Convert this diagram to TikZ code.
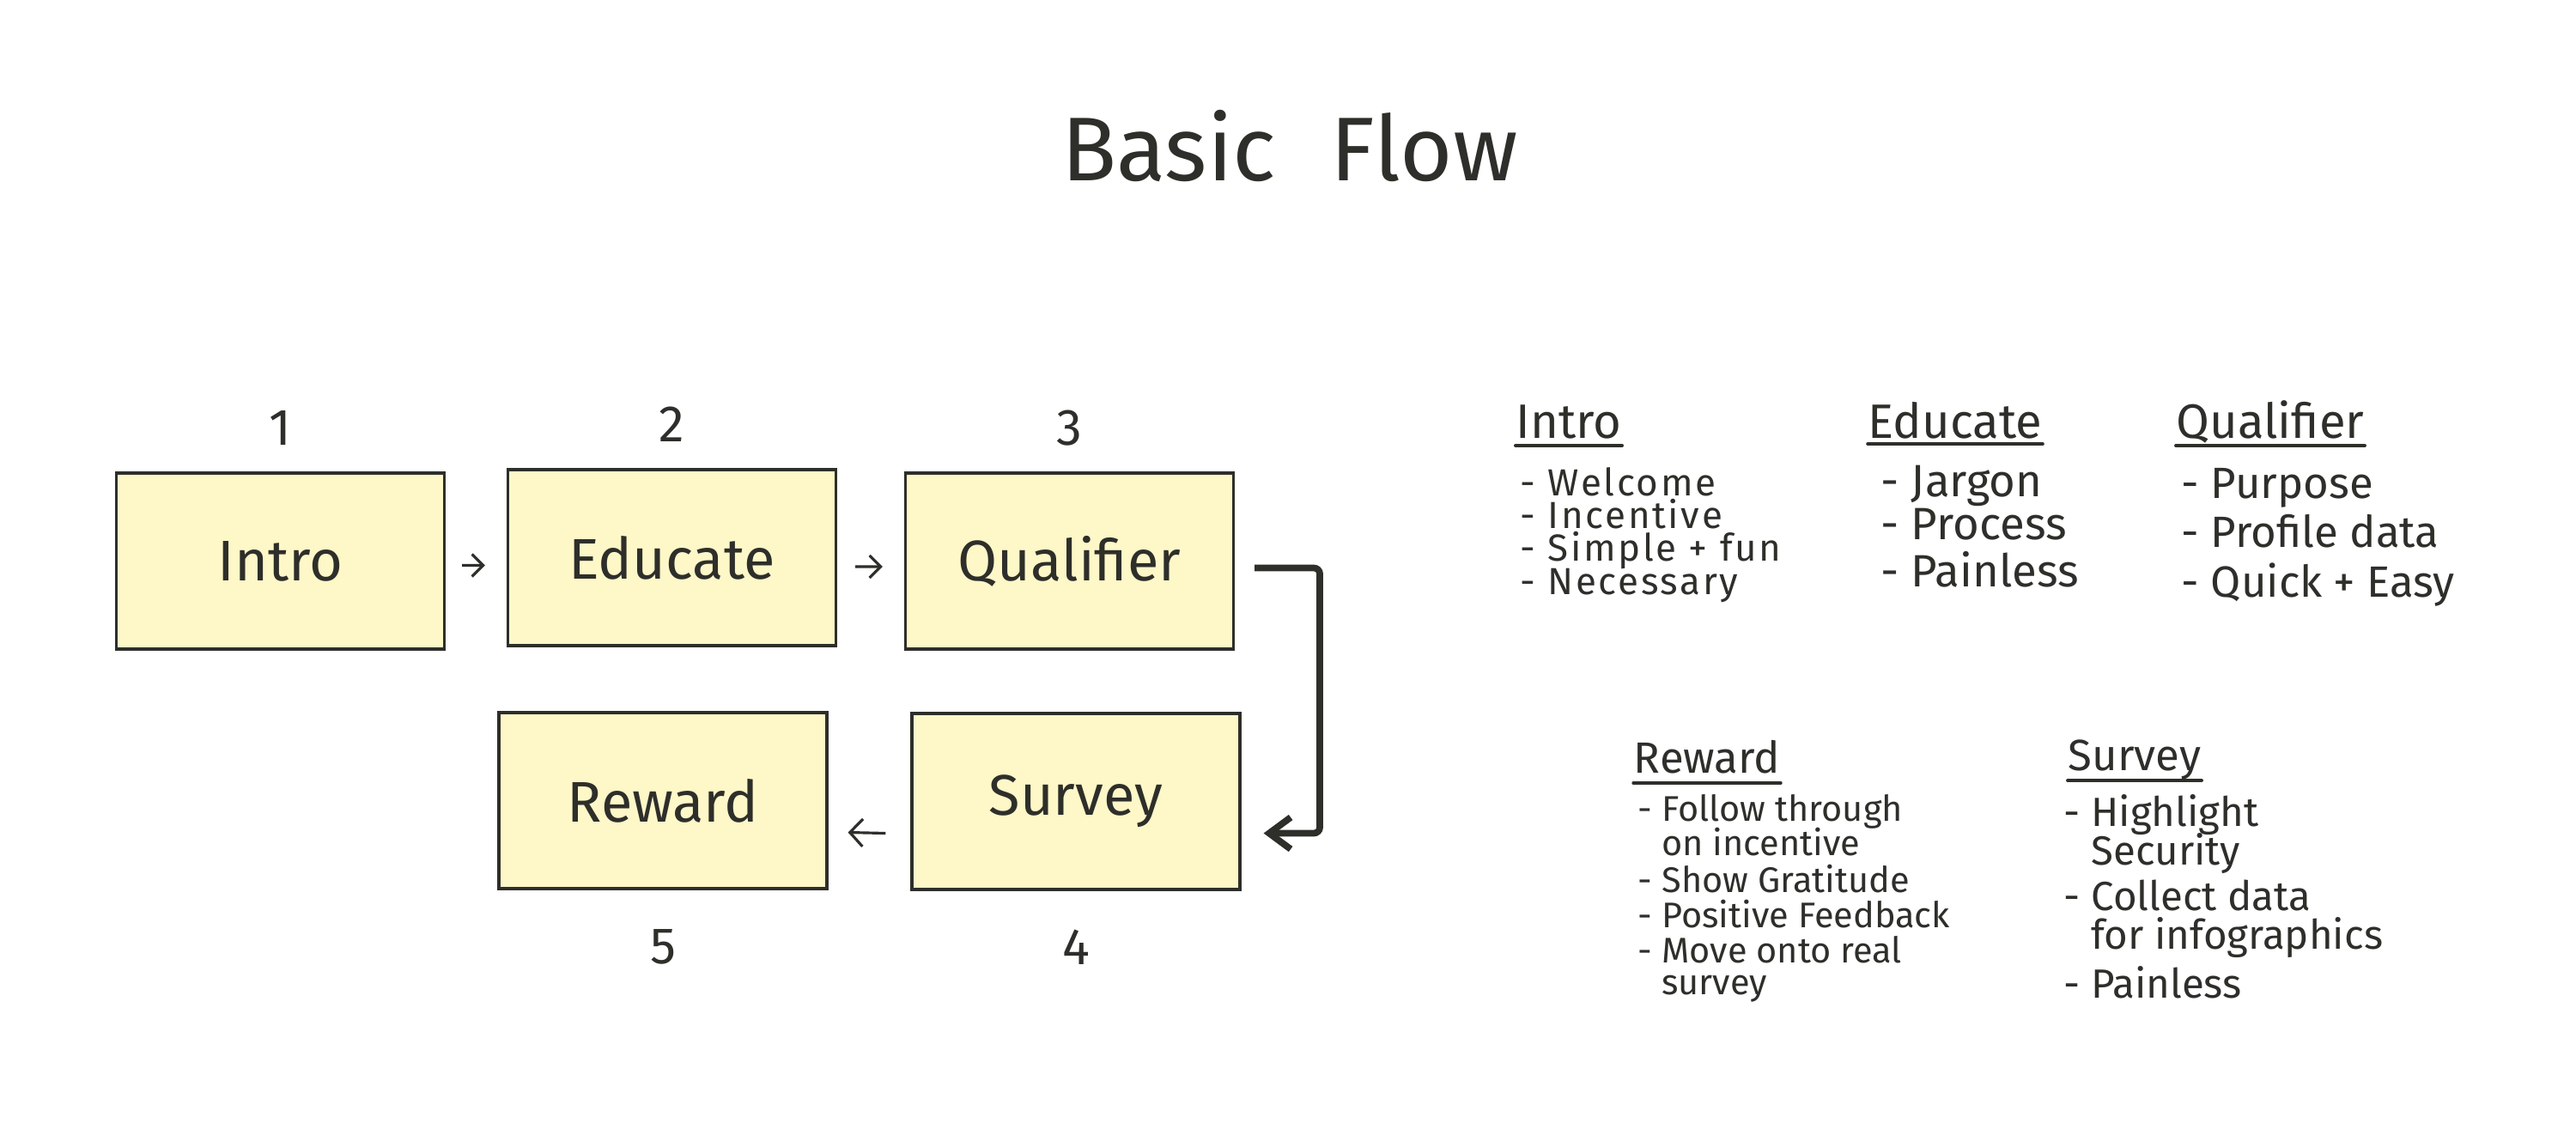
\documentclass[tikz,border=0pt]{standalone}
\usepackage{fontspec}
\setmainfont{Fira Sans}
\newfontfamily\widefont[LetterSpace=6]{Fira Sans}
\usetikzlibrary{positioning, arrows.meta, calc}
\definecolor{noteFill}{HTML}{FEF7C8}
\definecolor{ink}{HTML}{2E2E2A}

\begin{document}
\begin{tikzpicture}[every node/.style={text=ink},
  box/.style={draw=ink, line width=0.9pt, fill=noteFill, minimum width=3.82cm, minimum height=2.05cm, font=\fontsize{19}{22}\selectfont},
  num/.style={font=\fontsize{17}{20}\selectfont, inner sep=0pt},
  flow/.style={draw=ink, line width=0.9pt, -{Straight Barb[length=1.3mm, width=2.6mm]}},
  heading/.style={inner sep=0pt, anchor=base},
  item/.style={inner sep=0pt, anchor=base west},
  uline/.style={draw=ink, line width=1.1pt, line cap=round}]
\useasboundingbox (0,0) rectangle (30,-13.07);

% title
\node[anchor=base, font=\fontsize{30}{36}\selectfont] (title) at (15.02,-2.10) {Basic\hspace{0.6em}Flow};

% flow boxes
\node[box] (intro) at (3.265,-6.535) {Intro};
\node[box] (educate) at (7.825,-6.495) {Educate};
\node[box] (qualifier) at (12.455,-6.535) {Qualifier};
\node[box] (survey) at (12.53,-9.335) {Survey};
\node[box] (reward) at (7.72,-9.325) {Reward};

% step numbers
\node[num, above=0.3cm of intro] (n1) {1};
\node[num, above=0.3cm of educate] (n2) {2};
\node[num, above=0.3cm of qualifier] (n3) {3};
\node[num, below=0.45cm of survey] (n4) {4};
\node[num, below=0.45cm of reward] (n5) {5};

% connectors
\draw[flow] ([shift={(0.19,-0.05)}]intro.east) -- ([shift={(-0.25,-0.09)}]educate.west);
\draw[flow] ([shift={(0.21,-0.105)}]educate.east) -- ([shift={(-0.25,-0.065)}]qualifier.west);
\draw[flow, line width=2.2pt, rounded corners=2pt, -{Straight Barb[length=2.5mm, width=3.7mm]}]
  ([shift={(0.23,-0.08)}]qualifier.east) -- ++(0.76,0) |- ([shift={(0.26,-0.37)}]survey.east);
\draw[flow, -{Straight Barb[length=1.5mm, width=3.2mm]}] ([shift={(-0.29,-0.37)}]survey.west) -- ([shift={(0.23,-0.37)}]reward.east);

% notes: top row
\node[heading, font=\fontsize{16}{19}\selectfont] (hIntro) at (18.27,-5.10) {Intro};
\draw[uline] ([yshift=-0.09cm]hIntro.base west) -- ([yshift=-0.09cm]hIntro.base east);
\foreach \t/\y [count=\i] in {Welcome/5.77, Incentive/6.15, Simple + fun/6.53, Necessary/6.92}{
  \node[item, font=\widefont\fontsize{12.5}{15}\selectfont] (iIntro\i) at (17.70,-\y) {- \t};
}

\node[heading, font=\fontsize{16}{19}\selectfont] (hEducate) at (22.77,-5.10) {Educate};
\draw[uline] ([yshift=-0.07cm]hEducate.base west) -- ([yshift=-0.07cm]hEducate.base east);
\foreach \t/\y [count=\i] in {Jargon/5.78, Process/6.28, Painless/6.83}{
  \node[item, font=\fontsize{15}{17}\selectfont] (iEducate\i) at (21.90,-\y) {- \t};
}

\node[heading, font=\fontsize{16}{19}\selectfont] (hQualifier) at (26.44,-5.10) {Qualifier};
\draw[uline] ([yshift=-0.09cm]hQualifier.base west) -- ([yshift=-0.09cm]hQualifier.base east);
\foreach \t/\y [count=\i] in {Purpose/5.80, Profile data/6.37, Quick + Easy/6.95}{
  \node[item, font=\fontsize{14.5}{17}\selectfont] (iQualifier\i) at (25.40,-\y) {- \t};
}

% notes: bottom row
\node[heading, font=\fontsize{14.5}{17}\selectfont] (hReward) at (19.88,-9.00) {Reward};
\draw[uline] ([yshift=-0.12cm]hReward.base west) -- ([yshift=-0.12cm]hReward.base east);
\foreach \t/\y [count=\i] in {{- Follow through}/9.56, {\phantom{- }on incentive}/9.96, {- Show Gratitude}/10.39,
  {- Positive Feedback}/10.80, {- Move onto real}/11.21, {\phantom{- }survey}/11.58}{
  \node[item, font=\fontsize{11.8}{14}\selectfont] (iReward\i) at (19.07,-\y) {\t};
}

\node[heading, font=\fontsize{14.5}{17}\selectfont] (hSurvey) at (24.86,-8.97) {Survey};
\draw[uline] ([yshift=-0.12cm]hSurvey.base west) -- ([yshift=-0.12cm]hSurvey.base east);
\foreach \t/\y [count=\i] in {{- Highlight}/9.62, {\phantom{- }Security}/10.07, {- Collect data}/10.60,
  {\phantom{- }for infographics}/11.05, {- Painless}/11.62}{
  \node[item, font=\fontsize{13.5}{16}\selectfont] (iSurvey\i) at (24.03,-\y) {\t};
}
\end{tikzpicture}
\end{document}
